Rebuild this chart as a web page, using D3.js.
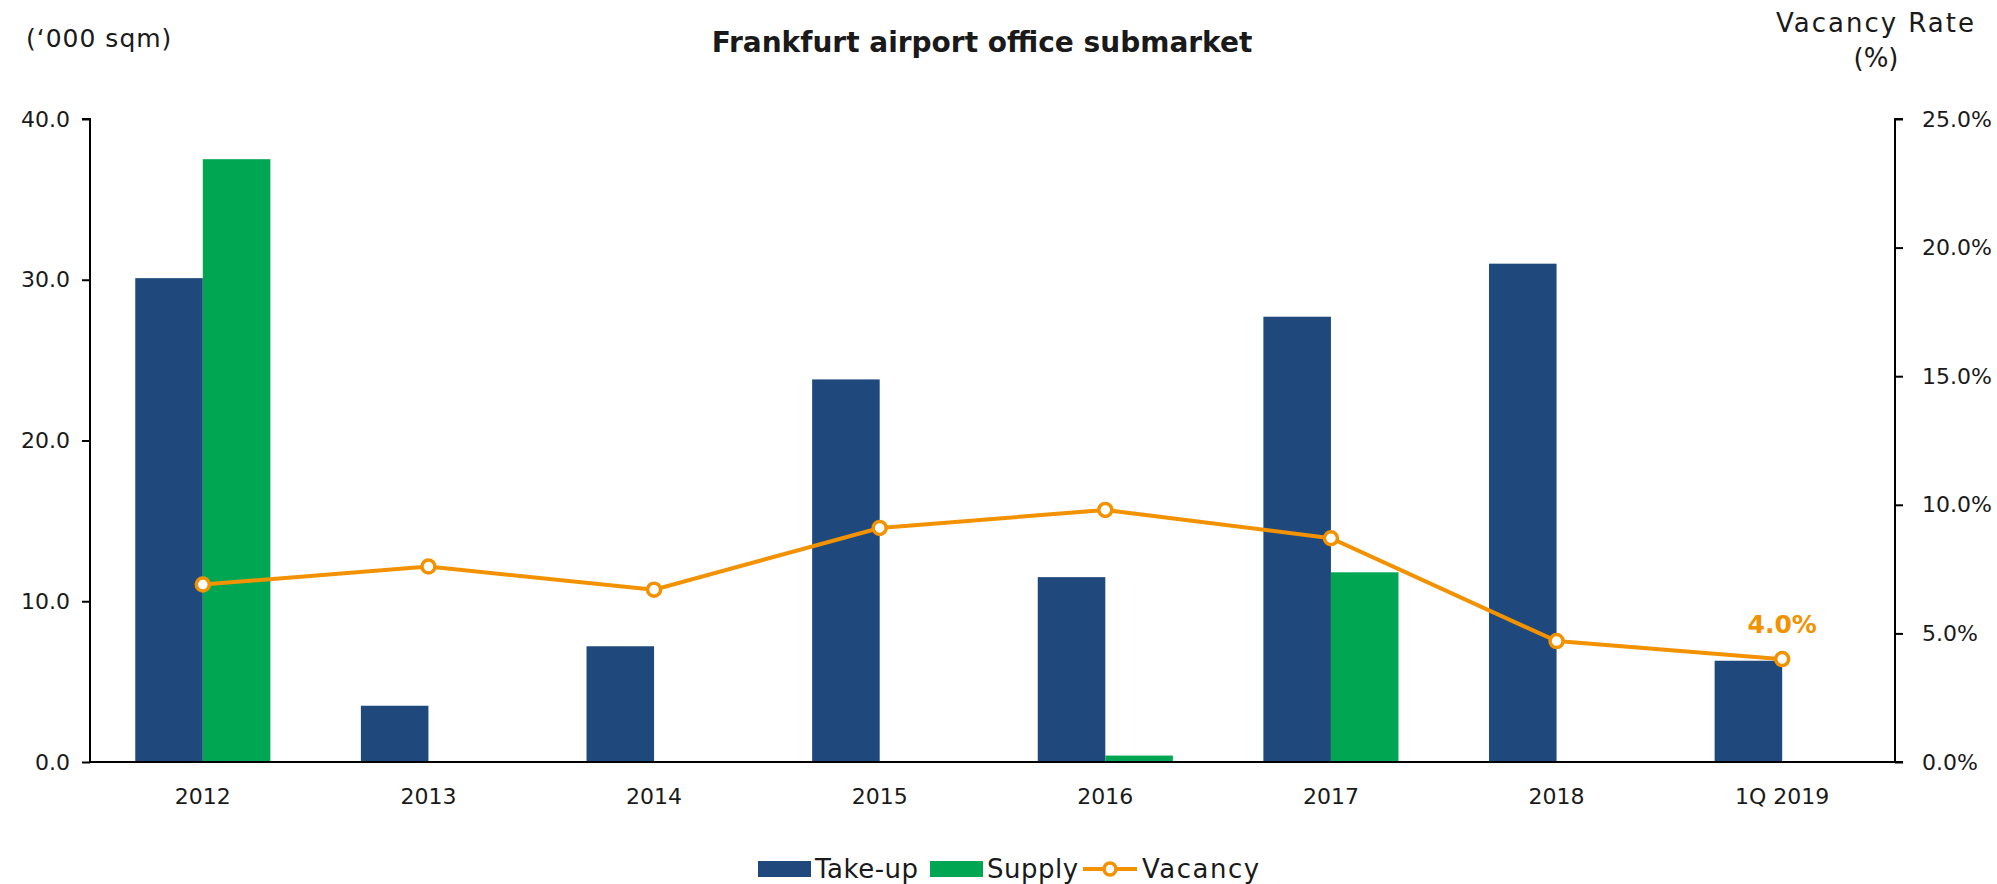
<!DOCTYPE html>
<html>
<head>
<meta charset="utf-8">
<script src="https://cdn.jsdelivr.net/npm/d3@7"></script>
<style>
  body { margin: 0; background: #fff; }
  text { font-family: "DejaVu Sans", sans-serif; fill: #1a1a1a; }
</style>
</head>
<body>
<div id="chart"></div>
<script>
// data
var categories = ["2012", "2013", "2014", "2015", "2016", "2017", "2018", "1Q 2019"]
var takeUp = [30.1, 3.5, 7.2, 23.8, 11.5, 27.7, 31.0, 6.3]
var supply = [37.5, 0, 0, 0, 0.4, 11.8, 0, 0]
var vacancy = [6.9, 7.6, 6.7, 9.1, 9.8, 8.7, 4.7, 4.0]
var leftTicks = [0, 10, 20, 30, 40]
var rightTicks = [0, 5, 10, 15, 20, 25]

const W = 1997, H = 884
const plotL = 90, plotR = 1895, plotT = 119, plotB = 762
const blue = "#1f497d", green = "#00a651", orange = "#f39200"

const svg = d3.select("#chart").append("svg")
    .attr("width", W)
    .attr("height", H)

const x = d3.scaleBand().domain(categories).range([plotL, plotR])
const xs = d3.scaleBand().domain(["takeUp", "supply"]).range([0, x.bandwidth()]).paddingOuter(0.67)
const yL = d3.scaleLinear().domain([0, 40]).range([plotB, plotT])
const yR = d3.scaleLinear().domain([0, 25]).range([plotB, plotT])

// bars
var rows = categories.map((c, i) => ({"cat": c, "takeUp": takeUp[i], "supply": supply[i]}))
var groups = svg.append("g").selectAll("g")
    .data(rows)
    .join("g")
    .attr("transform", d => `translate(${x(d.cat)},0)`)
groups.selectAll("rect")
    .data(d => [{"k": "takeUp", "v": d.takeUp}, {"k": "supply", "v": d.supply}].filter(v => v.v > 0))
    .join("rect")
    .attr("x", d => xs(d.k))
    .attr("width", xs.bandwidth())
    .attr("y", d => yL(d.v))
    .attr("height", d => plotB - yL(d.v))
    .attr("fill", d => d.k == "takeUp" ? blue : green)

// axes
const axisL = svg.append("g")
    .attr("transform", `translate(${plotL},0)`)
    .call(d3.axisLeft(yL).tickValues(leftTicks).tickFormat(d3.format(".1f")).tickSize(8).tickPadding(12))
const axisR = svg.append("g")
    .attr("transform", `translate(${plotR},0)`)
    .call(d3.axisRight(yR).tickValues(rightTicks).tickFormat(d => d.toFixed(1) + "%").tickSize(8).tickPadding(19))
const axisB = svg.append("g")
    .attr("transform", `translate(0,${plotB})`)
    .call(d3.axisBottom(x).tickSize(0).tickPadding(26))
svg.selectAll(".domain").attr("stroke", "#000").attr("stroke-width", 2)
svg.selectAll(".tick line").attr("stroke", "#000").attr("stroke-width", 2)
svg.selectAll(".tick text").attr("font-size", 22).attr("font-family", "DejaVu Sans").attr("fill", "#1a1a1a")
axisL.select(".domain").attr("d", `M-8,${plotT}H0V${plotB}`)
axisR.select(".domain").attr("d", `M8,${plotT}H0V${plotB}`)
axisB.select(".domain").attr("d", `M${plotL},0H${plotR + 8}`)

// vacancy line
const line = d3.line()
    .x((d, i) => x(categories[i]) + x.bandwidth() / 2)
    .y(d => yR(d))
svg.append("path")
    .datum(vacancy)
    .attr("d", line)
    .attr("fill", "none")
    .attr("stroke", orange)
    .attr("stroke-width", 4)
svg.append("g").selectAll("circle")
    .data(vacancy)
    .join("circle")
    .attr("cx", (d, i) => x(categories[i]) + x.bandwidth() / 2)
    .attr("cy", d => yR(d))
    .attr("r", 6.5)
    .attr("fill", "#fff")
    .attr("stroke", orange)
    .attr("stroke-width", 3.5)

// last value label
var last = vacancy.length - 1
svg.append("text")
    .attr("x", x(categories[last]) + x.bandwidth() / 2)
    .attr("y", yR(vacancy[last]) - 26)
    .attr("text-anchor", "middle")
    .attr("font-size", 25)
    .attr("font-weight", "bold")
    .style("fill", orange)
    .text(vacancy[last].toFixed(1) + "%")

// titles
svg.append("text")
    .attr("x", 982).attr("y", 52)
    .attr("text-anchor", "middle")
    .attr("font-size", 28)
    .attr("font-weight", "bold")
    .text("Frankfurt airport office submarket")
svg.append("text")
    .attr("x", 26).attr("y", 47)
    .attr("font-size", 25)
    .attr("letter-spacing", 1)
    .text("(\u2018000 sqm)")
svg.append("text")
    .attr("x", 1876).attr("y", 32)
    .attr("text-anchor", "middle")
    .attr("font-size", 26)
    .attr("letter-spacing", 2)
    .text("Vacancy Rate")
svg.append("text")
    .attr("x", 1876).attr("y", 67)
    .attr("text-anchor", "middle")
    .attr("font-size", 26)
    .text("(%)")

// legend
const leg = svg.append("g").attr("transform", "translate(0,869)")
leg.append("rect").attr("x", 758).attr("y", -8).attr("width", 53).attr("height", 16).attr("fill", blue)
leg.append("text").attr("x", 815).attr("y", 0).attr("dy", "0.35em").attr("font-size", 26).attr("letter-spacing", 0.5).text("Take-up")
leg.append("rect").attr("x", 930).attr("y", -8).attr("width", 53).attr("height", 16).attr("fill", green)
leg.append("text").attr("x", 987).attr("y", 0).attr("dy", "0.35em").attr("font-size", 26).attr("letter-spacing", 0.5).text("Supply")
leg.append("line").attr("x1", 1083).attr("x2", 1137).attr("y1", 0).attr("y2", 0).attr("stroke", orange).attr("stroke-width", 4)
leg.append("circle").attr("cx", 1110).attr("cy", 0).attr("r", 6).attr("fill", "#fff").attr("stroke", orange).attr("stroke-width", 3.5)
leg.append("text").attr("x", 1142).attr("y", 0).attr("dy", "0.35em").attr("font-size", 26).attr("letter-spacing", 1.5).text("Vacancy")
</script>
</body>
</html>
